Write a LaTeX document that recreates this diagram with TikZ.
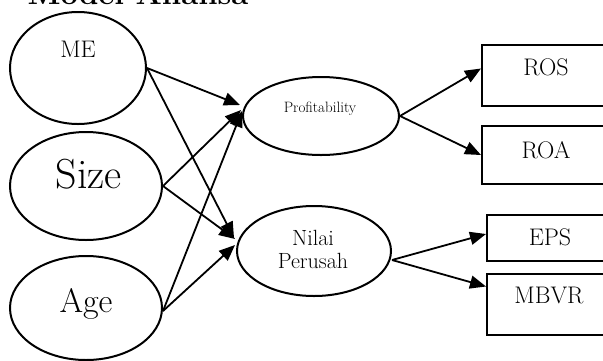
\documentclass[tikz,border=0pt]{standalone}
\usepackage{tikz}
\usetikzlibrary{arrows.meta,shapes.geometric}
\newcommand{\fs}[1]{\fontsize{#1}{#1}\selectfont}
\tikzstyle{variabel} = [draw, ellipse, line width=2pt, inner sep=0pt]
\tikzstyle{indikator} = [draw, rectangle, line width=2pt, inner sep=0pt, minimum width=130pt, anchor=north west]
\tikzstyle{panah} = [line width=1.8pt, -{Triangle[length=16pt,width=13pt]}]
\tikzstyle{teks} = [inner sep=0pt, anchor=base]

\begin{document}
\begin{tikzpicture}[x=1pt,y=-1pt]
	\useasboundingbox (0,0) rectangle (603,360);
	\clip (0,0) rectangle (603,360);
	\node[teks, font=\fs{31}\bfseries] (judul) at (138,4) {Model Analisa};
	\node[variabel, minimum width=136pt, minimum height=112pt] (me) at (78,68) {};
	\node[variabel, minimum width=152pt, minimum height=108pt] (size) at (86,186) {};
	\node[variabel, minimum width=152pt, minimum height=104pt] (age) at (86,308) {};
	\node[variabel, minimum width=156pt, minimum height=78pt] (prof) at (321,116) {};
	\node[variabel, minimum width=154pt, minimum height=90pt] (nilai) at (314,251) {};
	\node[teks, font=\fs{24}] (meT) at (78,57) {ME};
	\node[teks, font=\fs{42}] (sizeT) at (89,188) {Size};
	\node[teks, font=\fs{34}] (ageT) at (86,312) {Age};
	\node[teks, font=\fs{15}] (profT) at (320,112) {Profitability};
	\node[teks, font=\fs{22}] (nilaiT) at (313,245) {Nilai};
	\node[teks, font=\fs{22}] (perusahT) at (313,268) {Perusah};
	\node[indikator, minimum height=61pt] (ros) at (481,44) {};
	\node[indikator, minimum height=58pt] (roa) at (481,125) {};
	\node[indikator, minimum height=46pt] (eps) at (486,214) {};
	\node[indikator, minimum height=61pt] (mbvr) at (486,273) {};
	\node[teks, font=\fs{24}] (rosT) at (546,75) {ROS};
	\node[teks, font=\fs{24}] (roaT) at (546,158) {ROA};
	\node[teks, font=\fs{24}] (epsT) at (550,245) {EPS};
	\node[teks, font=\fs{24}] (mbvrT) at (549,303) {MBVR};
	\draw[panah] (me.east) -- ([shift={(-2,-11)}]prof.west);
	\draw[panah] (me.east) -- ([shift={(-2,-13)}]nilai.west);
	\draw[panah] (size.east) -- ([shift={(-1,-6)}]prof.west);
	\draw[panah] (size.east) -- ([shift={(-1,-12)}]nilai.west);
	\draw[panah] ([yshift=-3]age.east) -- ([shift={(0,-5)}]prof.west);
	\draw[panah] ([yshift=-3]age.east) -- ([shift={(-1,-6)}]nilai.west);
	\draw[panah] (prof.east) -- ([yshift=7]ros.west);
	\draw[panah] (prof.east) -- (roa.west);
	\draw[panah] ([yshift=-9]nilai.east) -- ([yshift=4]eps.west);
	\draw[panah] ([yshift=-9]nilai.east) -- ([yshift=18]mbvr.west);
\end{tikzpicture}
\end{document}
